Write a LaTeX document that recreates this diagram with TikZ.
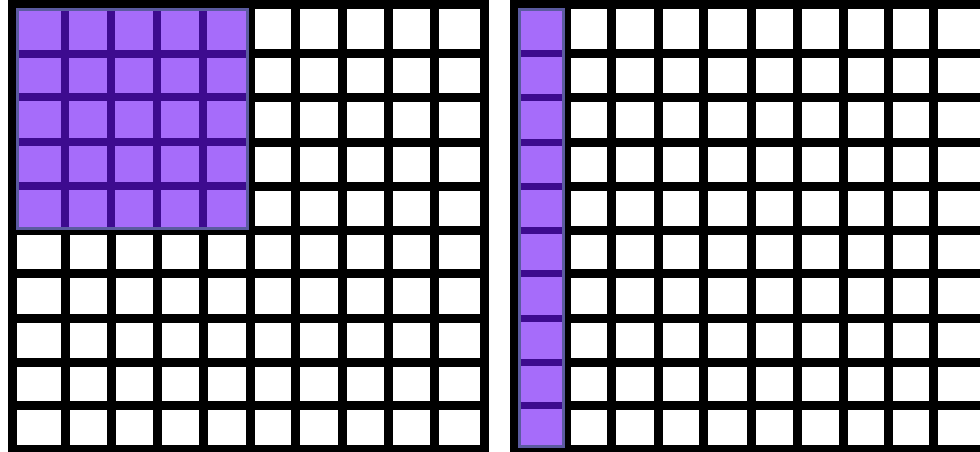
\documentclass[tikz,border=0pt]{standalone}
\definecolor{lav}{HTML}{A66CFA}
\definecolor{indig}{HTML}{3D0B8F}
\definecolor{slate}{HTML}{5B5BA0}
\begin{document}
\begin{tikzpicture}[x=1pt,y=-1pt,
  gridline/.style={line width=9pt, black, line cap=rect},
  innerline/.style={line width=8pt, indig},
  shade/.style={fill=lav, draw=slate, line width=3pt}]
\useasboundingbox (0,0) rectangle (980,452);
\clip (0,0) rectangle (980,452);
\fill[white] (0,0) rectangle (980,452);
% ---------- left grid ----------
\foreach \x in {12,65,111,157,203,250,295,342,388,434,484}
  \draw[gridline] (\x,5) -- (\x,449);
\foreach \y in {5,54,97,142,186,230,273,318,362,405,449}
  \draw[gridline] (12,\y) -- (484,\y);
% shaded 5x5 block
\filldraw[shade] (17,10) rectangle (247,228);
\foreach \x in {65,111,157,203}
  \draw[innerline] (\x,11.5) -- (\x,226.5);
\foreach \y in {54,97,142,186}
  \draw[innerline] (18.5,\y) -- (245.5,\y);
% ---------- right grid ----------
\foreach \x in {514,566,611,658,703,751,797,843,888,933,986}
  \draw[gridline] (\x,5) -- (\x,449);
\foreach \y in {5,54,97,142,186,230,273,318,362,405,449}
  \draw[gridline] (514,\y) -- (986,\y);
% shaded column
\filldraw[shade] (519,10) rectangle (563,446);
\foreach \y in {54,97,142,186,230,273,318,362,405}
  \draw[innerline, line width=7pt] (520.5,\y) -- (561.5,\y);
\end{tikzpicture}
\end{document}
